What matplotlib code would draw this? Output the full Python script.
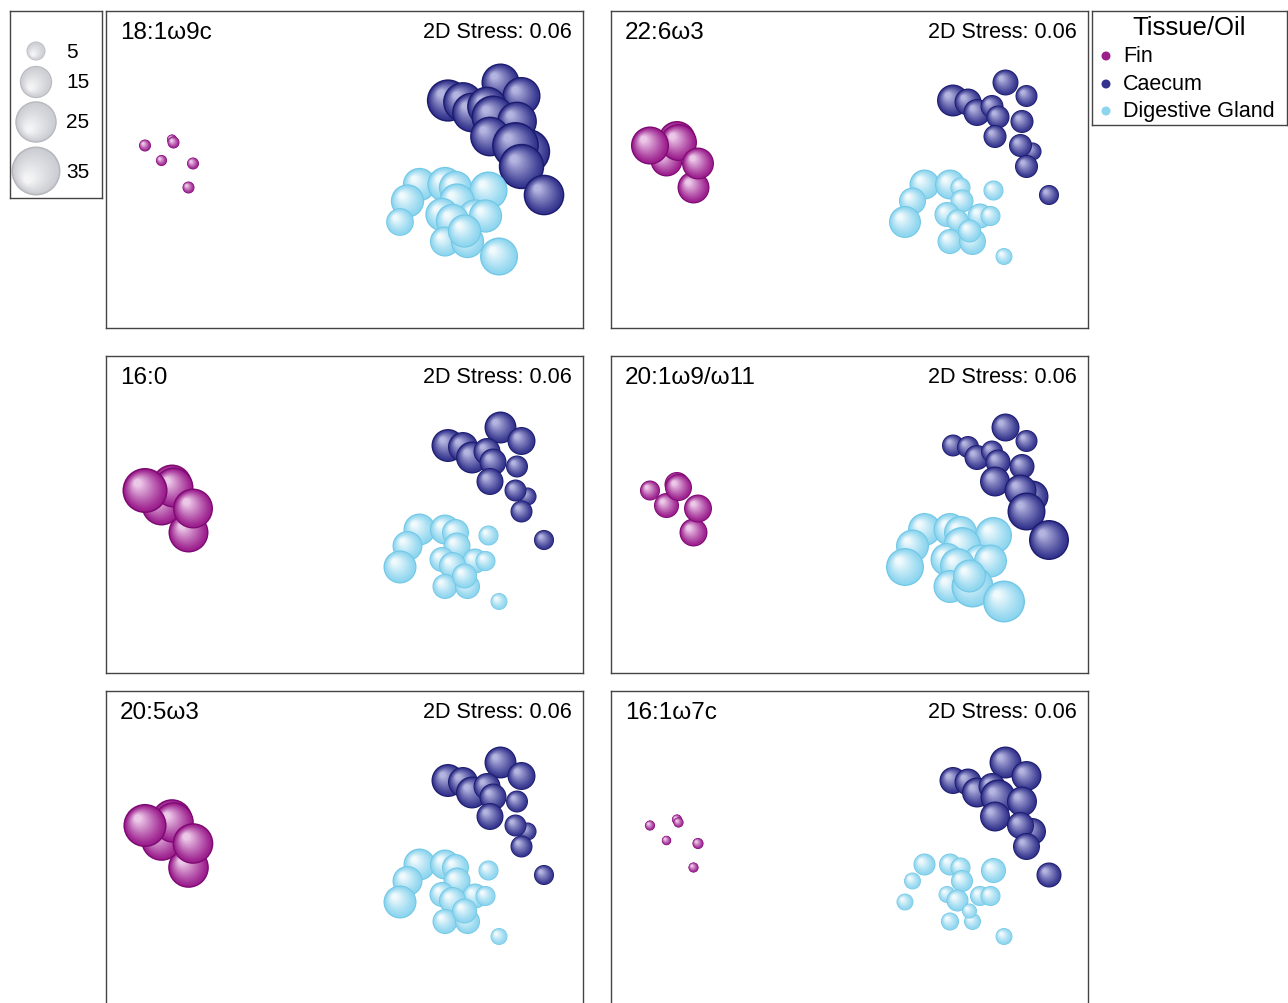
import numpy as np
import matplotlib
matplotlib.use("Agg")
import matplotlib.pyplot as plt
from matplotlib.collections import PatchCollection
from matplotlib.colors import to_rgb
from matplotlib.patches import Circle

plt.rcParams["font.family"] = ["Liberation Sans", "DejaVu Sans"]

# nMDS coordinates (same ordination in every panel)
fin_x = [-1.05, -1.23, -1.16, -1.15, -1.02, -1.34]
fin_y = [-0.11, 0.07, 0.21, 0.19, 0.05, 0.17]
caecum_x = [1.03, 1.17, 0.68, 0.78, 0.84, 0.94, 0.98, 1.14, 0.96, 1.21, 1.13, 1.17, 1.32]
caecum_y = [0.59, 0.50, 0.47, 0.46, 0.39, 0.43, 0.36, 0.33, 0.23, 0.13, 0.17, 0.03, -0.16]
gland_x = [0.49, 0.66, 0.73, 0.95, 0.41, 0.74, 0.64, 0.86, 0.93, 0.71, 0.36, 0.66, 0.81, 1.02, 0.79]
gland_y = [-0.09, -0.09, -0.11, -0.13, -0.20, -0.20, -0.29, -0.30, -0.30, -0.33, -0.34, -0.47, -0.47, -0.57, -0.40]

panel_titles = ["18:1ω9c", "22:6ω3", "16:0", "20:1ω9/ω11", "20:5ω3", "16:1ω7c"]
stress = 0.06

# fatty acid proportions (%) per panel, same point order as above
fin_vals = [
    [1.8, 1.5, 1.2, 1.8, 1.8, 1.8],
    [14.7, 14.7, 19.8, 19.8, 14.7, 21.0],
    [23.2, 23.2, 23.2, 23.2, 23.2, 29.5],
    [11.2, 8.9, 8.9, 10.4, 11.2, 5.6],
    [24.0, 24.0, 24.0, 24.0, 24.0, 27.0],
    [1.2, 1.0, 1.2, 1.2, 1.5, 1.2],
]
caecum_vals = [
    [21, 21, 26, 23, 23, 23, 27, 23, 23, 30, 32, 30, 24],
    [9.6, 6.8, 14.7, 10.4, 10.4, 7.5, 7.5, 7.5, 7.5, 4.5, 7.5, 7.5, 5.6],
    [14.7, 11.2, 15.7, 12.9, 14.7, 10.4, 10.4, 6.8, 10.4, 4.5, 6.8, 6.8, 5.6],
    [11.2, 6.8, 6.8, 6.8, 8.9, 6.8, 8.9, 8.9, 12.9, 14.7, 14.7, 20.9, 23.2],
    [14.7, 11.2, 15.7, 12.9, 14.7, 10.4, 10.4, 6.8, 10.4, 4.5, 6.8, 6.8, 5.6],
    [14.7, 12.9, 10.4, 10.4, 12.9, 10.4, 17.7, 12.9, 12.9, 10.4, 10.4, 10.4, 8.9],
]
gland_vals = [
    [16, 18, 16, 21, 16, 18, 16, 16, 16, 16, 11, 13, 16, 21, 16],
    [12.9, 12.9, 5.6, 5.6, 10.4, 7.5, 8.9, 8.9, 5.6, 6.8, 14.7, 8.9, 10.4, 3.9, 7.5],
    [14.7, 12.9, 10.4, 5.6, 12.9, 10.4, 8.9, 8.9, 5.6, 10.4, 15.7, 8.9, 8.9, 3.9, 8.9],
    [15.7, 15.7, 15.7, 19.8, 15.7, 20.9, 15.7, 15.7, 15.7, 17.7, 20.9, 15.7, 25.6, 25.6, 15.7],
    [14.7, 12.9, 10.4, 5.6, 12.9, 10.4, 8.9, 8.9, 5.6, 10.4, 15.7, 8.9, 8.9, 3.9, 8.9],
    [6.8, 6.8, 5.6, 8.9, 3.9, 6.8, 3.9, 5.6, 5.6, 6.8, 3.9, 4.5, 3.9, 3.9, 3.0],
]
size_keys = [5, 15, 25, 35]
groups = ["Fin", "Caecum", "Digestive Gland"]

# (rim, body, highlight)
PALETTE = {
    "Fin": ("#7d0a72", "#9c1f8e", "#ecc8e8"),
    "Caecum": ("#1c1c6e", "#34348e", "#b4b4e0"),
    "Digestive Gland": ("#72c8e6", "#8dd5ef", "#f0fafd"),
    "key": ("#b8b9be", "#cdced3", "#f4f4f6"),
}
PX_PER_UNIT = 150.0


def radius_px(v):
    return np.sqrt(68.0 * v + 21.0) / 2.0


def mix(c1, c2, t):
    a, b = np.array(to_rgb(c1)), np.array(to_rgb(c2))
    return tuple(a + (b - a) * t)


def bubbles(ax, xs, ys, rs, key, n=16):
    rim, body, light = PALETTE[key]
    patches, colors = [], []
    for x, y, r in zip(xs, ys, rs):
        patches.append(Circle((x, y), r))
        colors.append(to_rgb(rim))
        r0 = r * 0.93
        for k in range(n + 1):
            t = k / n
            rk = r0 * (1 - 0.82 * t)
            off = 0.33 * r * t
            patches.append(Circle((x - off, y + off), rk))
            colors.append(mix(body, light, t ** 1.1))
    pc = PatchCollection(patches, facecolors=colors, edgecolors="none", linewidths=0)
    ax.add_collection(pc)


def style_box(ax):
    ax.set_xticks([])
    ax.set_yticks([])
    for s in ax.spines.values():
        s.set_color("#444444")
        s.set_linewidth(1.0)


W, H = 1288, 1004
fig = plt.figure(figsize=(W / 100, H / 100), dpi=100)


def px_axes(x0, y0, w, h):
    return fig.add_axes([x0 / W, 1 - (y0 + h) / H, w / W, h / H])


panel_pos = [(106, 12), (611, 12), (106, 357), (611, 357), (106, 692), (611, 692)]
pw, ph = 477, 317
for i, (px, py) in enumerate(panel_pos):
    ax = px_axes(px, py, pw, ph)
    style_box(ax)
    ax.set_xlim(-240 / PX_PER_UNIT, (pw - 240) / PX_PER_UNIT)
    ax.set_ylim((160 - ph) / PX_PER_UNIT, 160 / PX_PER_UNIT)
    for key, xs, ys, vals in [
        ("Fin", fin_x, fin_y, fin_vals[i]),
        ("Caecum", caecum_x, caecum_y, caecum_vals[i]),
        ("Digestive Gland", gland_x, gland_y, gland_vals[i]),
    ]:
        rs = radius_px(np.array(vals)) / PX_PER_UNIT
        bubbles(ax, xs, ys, rs, key)
    ax.text(14 / pw, 1 - 21 / ph, panel_titles[i], transform=ax.transAxes,
            ha="left", va="center", fontsize=17.5)
    ax.text(1 - 11 / pw, 1 - 21 / ph, f"2D Stress: {stress:.2f}", transform=ax.transAxes,
            ha="right", va="center", fontsize=15.5)

# bubble size key
kax = px_axes(10, 12, 92, 187)
style_box(kax)
kax.set_xlim(0, 92)
kax.set_ylim(187, 0)
key_y = [40, 71, 111, 160]
bubbles(kax, [26] * 4, key_y, radius_px(np.array(size_keys)), "key")
for v, yy in zip(size_keys, key_y):
    kax.text(56, yy, str(v), ha="left", va="center", fontsize=15)

# tissue legend
lax = px_axes(1092, 12, 195, 114)
style_box(lax)
lax.set_xlim(0, 195)
lax.set_ylim(114, 0)
lax.text(97, 16, "Tissue/Oil", ha="center", va="center", fontsize=18.5)
for g, yy in zip(groups, [45, 73, 100]):
    lax.scatter([14], [yy], s=42, color=PALETTE[g][1], edgecolors="none")
    lax.text(31, yy, g, ha="left", va="center", fontsize=15.5)

fig.savefig("out.png", dpi=100, facecolor="white")
